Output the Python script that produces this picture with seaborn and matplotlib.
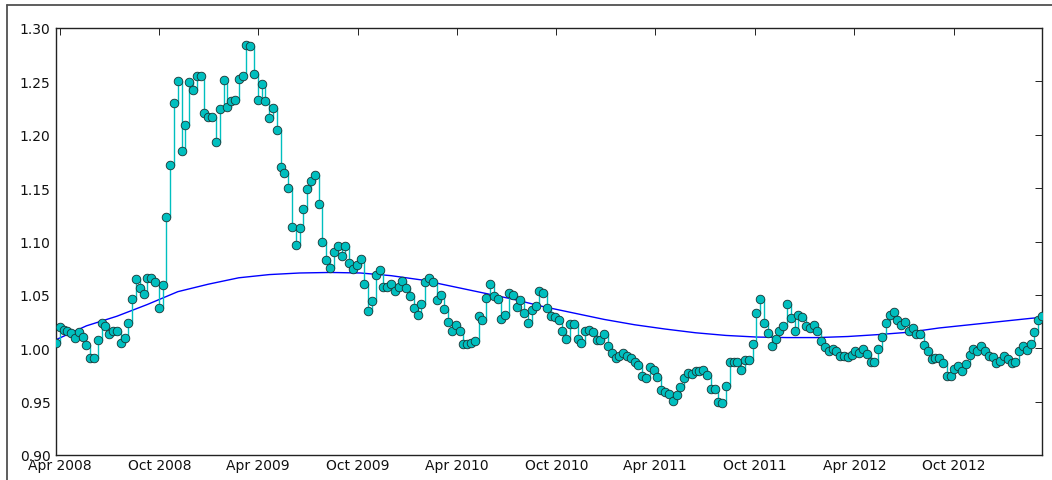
import numpy as np
import pandas as pd
import matplotlib
matplotlib.use("Agg")
import matplotlib.pyplot as plt
import matplotlib.dates as mdates
from matplotlib.lines import Line2D
import seaborn as sns

# Weekly ratio observations
start_date = "2008-03-25"
ratio = [
    1.005, 1.020, 1.017, 1.016, 1.014, 1.010, 1.015, 1.011, 1.003, 0.991,
    0.991, 1.008, 1.024, 1.021, 1.013, 1.016, 1.016, 1.005, 1.010, 1.024,
    1.046, 1.065, 1.056, 1.051, 1.066, 1.066, 1.062, 1.038, 1.059, 1.123,
    1.172, 1.230, 1.250, 1.185, 1.209, 1.249, 1.242, 1.255, 1.255, 1.220,
    1.217, 1.217, 1.193, 1.224, 1.251, 1.226, 1.232, 1.233, 1.252, 1.255,
    1.284, 1.283, 1.257, 1.233, 1.248, 1.232, 1.216, 1.225, 1.204, 1.170,
    1.164, 1.150, 1.114, 1.097, 1.113, 1.130, 1.149, 1.157, 1.162, 1.135,
    1.100, 1.083, 1.075, 1.090, 1.096, 1.086, 1.096, 1.080, 1.074, 1.078,
    1.084, 1.060, 1.035, 1.044, 1.069, 1.073, 1.057, 1.057, 1.060, 1.054,
    1.057, 1.063, 1.056, 1.049, 1.038, 1.031, 1.041, 1.062, 1.066, 1.062,
    1.045, 1.050, 1.037, 1.025, 1.016, 1.022, 1.016, 1.004, 1.004, 1.005,
    1.007, 1.030, 1.026, 1.047, 1.060, 1.049, 1.046, 1.027, 1.031, 1.052,
    1.050, 1.039, 1.045, 1.033, 1.024, 1.036, 1.040, 1.054, 1.052, 1.038,
    1.030, 1.029, 1.026, 1.016, 1.009, 1.023, 1.023, 1.009, 1.005, 1.016,
    1.017, 1.015, 1.008, 1.008, 1.013, 1.002, 0.996, 0.991, 0.993, 0.996,
    0.993, 0.991, 0.987, 0.984, 0.974, 0.972, 0.982, 0.980, 0.973, 0.961,
    0.959, 0.957, 0.951, 0.956, 0.964, 0.972, 0.977, 0.976, 0.979, 0.979,
    0.980, 0.975, 0.962, 0.962, 0.950, 0.949, 0.965, 0.987, 0.987, 0.987,
    0.980, 0.989, 0.989, 1.004, 1.033, 1.046, 1.024, 1.014, 1.002, 1.009,
    1.016, 1.021, 1.041, 1.028, 1.016, 1.031, 1.029, 1.021, 1.019, 1.022,
    1.016, 1.007, 1.001, 0.997, 0.999, 0.997, 0.993, 0.993, 0.992, 0.994,
    0.997, 0.996, 0.999, 0.995, 0.987, 0.987, 0.999, 1.011, 1.024, 1.031,
    1.034, 1.026, 1.022, 1.025, 1.016, 1.019, 1.013, 1.013, 1.003, 0.997,
    0.990, 0.991, 0.991, 0.986, 0.974, 0.974, 0.981, 0.983, 0.979, 0.985,
    0.994, 0.999, 0.997, 1.002, 0.997, 0.993, 0.992, 0.986, 0.988, 0.993,
    0.990, 0.986, 0.987, 0.997, 1.002, 0.998, 1.004, 1.015, 1.026, 1.030,
]

# Smooth trend, sampled every eight weeks
trend_index = [0, 8, 16, 24, 32, 40, 48, 56, 64, 72, 80, 88, 96, 104, 112,
               120, 128, 136, 144, 152, 160, 168, 176, 184, 192, 200, 208,
               216, 224, 232, 240, 248, 256, 259]
trend = [1.008, 1.021, 1.030, 1.041, 1.053, 1.060, 1.066, 1.069, 1.0705,
         1.071, 1.0705, 1.068, 1.064, 1.058, 1.052, 1.046, 1.039, 1.033,
         1.027, 1.022, 1.018, 1.0145, 1.012, 1.0105, 1.010, 1.010, 1.011,
         1.0128, 1.015, 1.019, 1.022, 1.025, 1.028, 1.029]

y_ticks = [0.90, 0.95, 1.00, 1.05, 1.10, 1.15, 1.20, 1.25, 1.30]

dates = pd.date_range(start_date, periods=len(ratio), freq="7D")
series = pd.DataFrame({"date": dates, "ratio": ratio})
trend_df = pd.DataFrame({"date": dates[trend_index], "trend": trend})

sns.set_style("white")
plt.rcParams["font.family"] = ["DejaVu Sans"]

W, H = 1052, 481
fig = plt.figure(figsize=(W / 100, H / 100), dpi=100)
ax = fig.add_axes([56 / W, 1 - 456 / H, (1042 - 56) / W, (456 - 29) / H])

sns.lineplot(data=trend_df, x="date", y="trend", ax=ax, color="#0000ff",
             linewidth=1.0, zorder=2)
sns.lineplot(data=series, x="date", y="ratio", ax=ax, color="#00bfbf",
             drawstyle="steps-post", linewidth=1.0, marker="o",
             markersize=6.2, markerfacecolor="#00bfbf",
             markeredgecolor="#1a3333", markeredgewidth=0.6, zorder=3)

ax.set_xlim(dates[0], dates[-1])
ax.set_ylim(0.90, 1.30)
ax.set_yticks(y_ticks)
ax.yaxis.set_major_formatter(plt.FormatStrFormatter("%.2f"))
ax.xaxis.set_major_locator(mdates.MonthLocator(bymonth=[4, 10]))
ax.xaxis.set_major_formatter(mdates.DateFormatter("%b %Y"))
ax.set_xlabel("")
ax.set_ylabel("")

for side in ax.spines.values():
    side.set_visible(True)
    side.set_color("#222222")
    side.set_linewidth(1.0)

ax.tick_params(axis="both", which="major", direction="in", top=True,
               right=True, length=5, width=0.7, color="#222222",
               labelsize=10, labelcolor="#111111")
ax.tick_params(axis="x", pad=2)
ax.tick_params(axis="y", pad=4)

# Frame edges of the output panel
fig.add_artist(Line2D([6.5 / W, 1.0], [1 - 5.5 / H, 1 - 5.5 / H],
                      transform=fig.transFigure, color="#505050", lw=1.3))
fig.add_artist(Line2D([6.5 / W, 6.5 / W], [0.0, 1 - 5.5 / H],
                      transform=fig.transFigure, color="#505050", lw=1.3))

fig.savefig("out.png", dpi=100)
